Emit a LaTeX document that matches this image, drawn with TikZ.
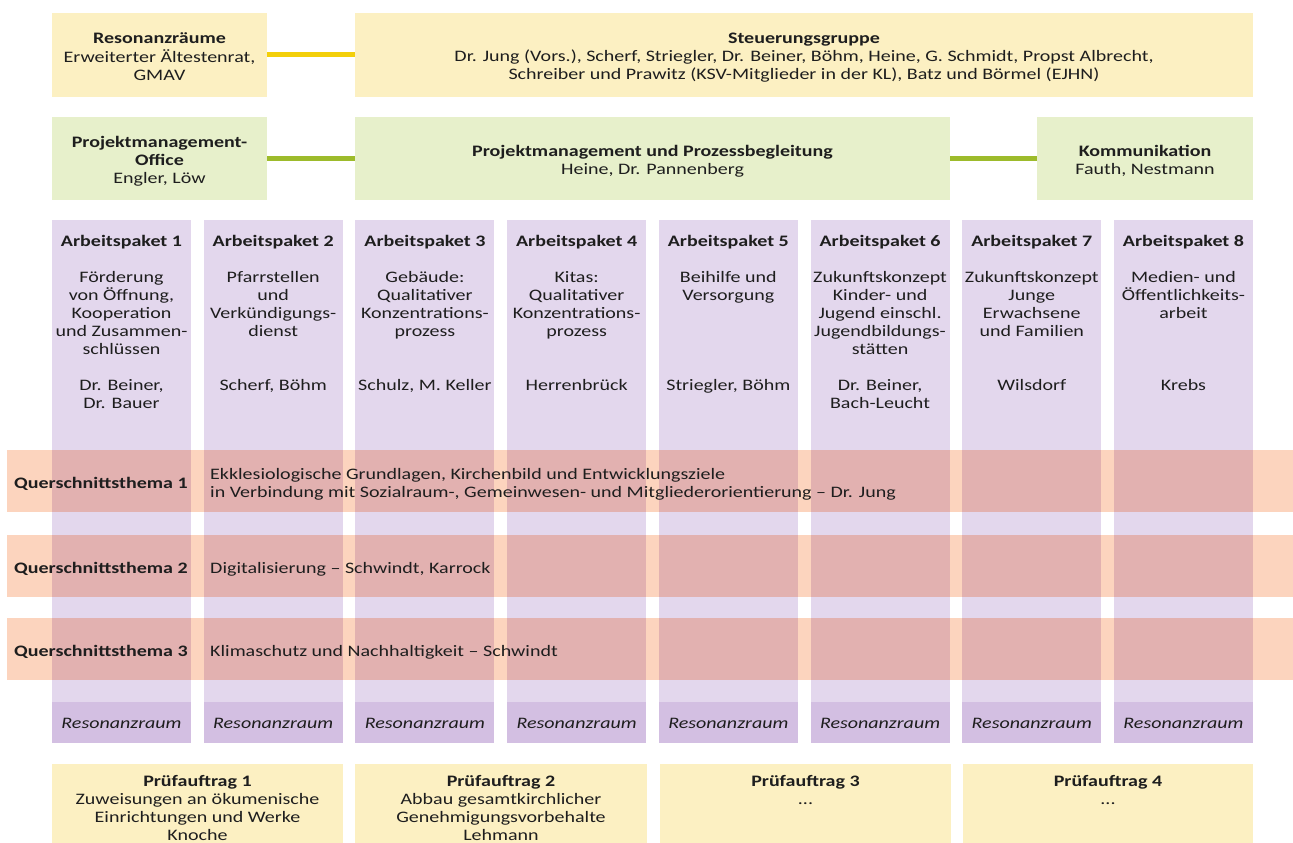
\documentclass[tikz,border=0pt]{standalone}
\usepackage{fontspec}
\setmainfont{Carlito}[FakeStretch=1.25]
\definecolor{boxyellow}{RGB}{252,240,194}
\definecolor{boxgreen}{RGB}{231,240,203}
\definecolor{linegold}{RGB}{243,207,10}
\definecolor{linegreen}{RGB}{157,187,43}
\definecolor{colpurple}{RGB}{227,215,237}
\definecolor{respurple}{RGB}{211,191,226}
\definecolor{bandpeach}{RGB}{252,212,190}
\definecolor{bandover}{RGB}{226,177,176}
\definecolor{ink}{RGB}{30,30,30}
\newcommand\myfs{\fontsize{16}{18}\selectfont}
\begin{document}
\begin{tikzpicture}[x=1pt,y=-1pt,
  ybox/.style={fill=boxyellow,draw=none,inner sep=0,minimum height=84pt},
  gbox/.style={fill=boxgreen,draw=none,inner sep=0,minimum height=83pt},
  pbox/.style={fill=boxyellow,draw=none,inner sep=0,minimum height=86pt},
  colbox/.style={fill=colpurple,draw=none,inner sep=0,minimum width=139pt,minimum height=523pt},
  txt/.style={font=\myfs,text=ink,inner sep=0,align=center,anchor=north},
  ltxt/.style={font=\myfs,text=ink,inner sep=0,anchor=base west},
  goldline/.style={draw=linegold,line width=5pt},
  greenline/.style={draw=linegreen,line width=5pt}]
\useasboundingbox (0,0) rectangle (1293,843);
\fill[white] (0,0) rectangle (1293,843);

% top row
\node[ybox,minimum width=215pt] (res) at (159.5,55) {};
\node[ybox,minimum width=898pt] (steuer) at (804,55) {};
\draw[goldline] (res.east) -- (steuer.west);
% second row
\node[gbox,minimum width=215pt] (pmo) at (159.5,158.5) {};
\node[gbox,minimum width=595pt] (pmp) at (652.5,158.5) {};
\node[gbox,minimum width=216pt] (komm) at (1145,158.5) {};
\draw[greenline] (pmo.east) -- (pmp.west);
\draw[greenline] (pmp.east) -- (komm.west);

\node[txt] (rest) at (159.5,43-12.6) {\strut\textbf{Resonanzräume}\\Erweiterter Ältestenrat,\\GMAV};
\node[txt] (steuert) at (804,43-12.6) {\strut\textbf{Steuerungsgruppe}\\Dr. Jung (Vors.), Scherf, Striegler, Dr. Beiner, Böhm, Heine, G. Schmidt, Propst Albrecht,\\Schreiber und Prawitz (KSV-Mitglieder in der KL), Batz und Börmel (EJHN)};
\node[txt] (pmot) at (159.5,147-12.6) {\strut\textbf{Projektmanagement-}\\\textbf{Office}\\Engler, Löw};
\node[txt] (pmpt) at (652.5,156-12.6) {\strut\textbf{Projektmanagement und Prozessbegleitung}\\Heine, Dr. Pannenberg};
\node[txt] (kommt) at (1145,156-12.6) {\strut\textbf{Kommunikation}\\Fauth, Nestmann};

% columns
\foreach \i in {1,...,8}{
  \pgfmathsetmacro\xl{52+(\i-1)*151.71}
  \node[colbox] (ap\i) at (\xl+69.5,481.5) {};
  \fill[respurple] (\xl,702) rectangle (\xl+139,743);
}
% cross bands
\foreach \t/\b in {450/512,535/597,618/680}{
  \fill[bandpeach] (7,\t) rectangle (1300,\b);
  \foreach \i in {0,...,7}{
    \fill[bandover] (52+\i*151.71,\t) rectangle (52+\i*151.71+139,\b);
  }
}

% column texts
\foreach \i/\d/\n in {
  1/{Förderung\\von Öffnung,\\Kooperation\\und Zusammen-\\schlüssen}/{Dr. Beiner,\\Dr. Bauer},
  2/{Pfarrstellen\\und\\Verkündigungs-\\dienst}/{Scherf, Böhm},
  3/{Gebäude:\\Qualitativer\\Konzentrations-\\prozess}/{Schulz, M. Keller},
  4/{Kitas:\\Qualitativer\\Konzentrations-\\prozess}/{Herrenbrück},
  5/{Beihilfe und\\Versorgung}/{Striegler, Böhm},
  6/{Zukunftskonzept\\Kinder- und\\Jugend einschl.\\Jugendbildungs-\\stätten}/{Dr. Beiner,\\Bach-Leucht},
  7/{Zukunftskonzept\\Junge\\Erwachsene\\und Familien}/{Wilsdorf},
  8/{Medien- und\\Öffentlichkeits-\\arbeit}/{Krebs}}{
  \pgfmathsetmacro\xc{52+(\i-1)*151.71+69.5}
  \node[txt] (apt\i) at (\xc,246-12.6) {\strut\textbf{Arbeitspaket \i}\\[18pt]\d};
  \node[txt] (apn\i) at (\xc,390-12.6) {\strut\n};
  \node[txt,anchor=base,font=\myfs\itshape] (apr\i) at (\xc,728) {Resonanzraum};
}

% band texts
\node[ltxt,font=\myfs\bfseries] (q1l) at (14,488.5) {Querschnittsthema 1};
\node[ltxt,font=\myfs\bfseries] (q2l) at (14,573.5) {Querschnittsthema 2};
\node[ltxt,font=\myfs\bfseries] (q3l) at (14,656.5) {Querschnittsthema 3};
\node[txt,anchor=north west,align=left,font=\fontsize{16}{17.5}\selectfont] (q1t) at (210,480-12.6) {\strut Ekklesiologische Grundlagen, Kirchenbild und Entwicklungsziele\\in Verbindung mit Sozialraum-, Gemeinwesen- und Mitgliederorientierung – Dr. Jung};
\node[ltxt] (q2t) at (210,573.5) {Digitalisierung – Schwindt, Karrock};
\node[ltxt] (q3t) at (210,656.5) {Klimaschutz und Nachhaltigkeit – Schwindt};

% Pruefauftraege
\node[pbox,minimum width=291pt] (pa1) at (197.5,807) {};
\node[pbox,minimum width=292pt] (pa2) at (501,807) {};
\node[pbox,minimum width=291pt] (pa3) at (805.5,807) {};
\node[pbox,minimum width=290pt] (pa4) at (1108,807) {};
\node[txt] (pa1t) at (197.5,786-12.6) {\strut\textbf{Prüfauftrag 1}\\Zuweisungen an ökumenische\\Einrichtungen und Werke\\Knoche};
\node[txt] (pa2t) at (501,786-12.6) {\strut\textbf{Prüfauftrag 2}\\Abbau gesamtkirchlicher\\Genehmigungsvorbehalte\\Lehmann};
\node[txt] (pa3t) at (805.5,786-12.6) {\strut\textbf{Prüfauftrag 3}\\...};
\node[txt] (pa4t) at (1108,786-12.6) {\strut\textbf{Prüfauftrag 4}\\...};
\end{tikzpicture}
\end{document}
